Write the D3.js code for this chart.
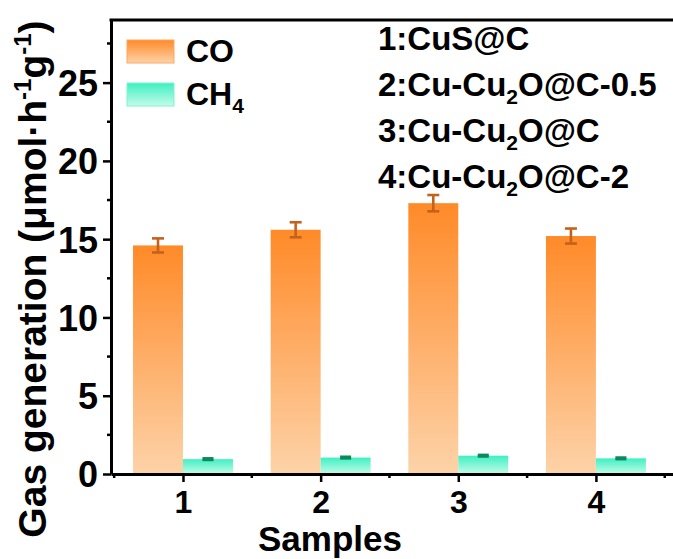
<!DOCTYPE html>
<html>
<head>
<meta charset="utf-8">
<script src="https://cdn.jsdelivr.net/npm/d3@7"></script>
<style>
  html, body { margin: 0; padding: 0; background: #fff; }
  svg { display: block; }
</style>
</head>
<body>
<svg id="main-svg" width="673" height="559"></svg>
<script>
// data
const samples = [1, 2, 3, 4];
const coValues = [14.6, 15.6, 17.3, 15.2];
const coErrors = [0.45, 0.48, 0.52, 0.48];
const ch4Values = [0.95, 1.05, 1.17, 1.0];
const ch4Errors = [0.05, 0.05, 0.05, 0.05];
const yTicks = [0, 5, 10, 15, 20, 25];
const yMinorTicks = [2.5, 7.5, 12.5, 17.5, 22.5, 27.5];
const xMinorTicks = [0.5, 1.5, 2.5, 3.5, 4.5];
const legendLabels = ["CO", "CH_4"];
// "_x" marks a subscript character
const sampleNames = ["1:CuS@C", "2:Cu-Cu_2O@C-0.5", "3:Cu-Cu_2O@C", "4:Cu-Cu_2O@C-2"];

const font = "'Liberation Sans', Arial, sans-serif";
const svg = d3.select("#main-svg");

const x = d3.scaleLinear().domain([0.477, 4.56]).range([111, 673]);
const y = d3.scaleLinear().domain([0, 29]).range([474, 20]);
const barW = 0.363;

// gradients
const defs = svg.append("defs");
function grad(id, top, bottom) {
    const g = defs.append("linearGradient").attr("id", id)
        .attr("x1", 0).attr("y1", 0).attr("x2", 0).attr("y2", 1);
    g.append("stop").attr("offset", "0%").attr("stop-color", top);
    g.append("stop").attr("offset", "100%").attr("stop-color", bottom);
}
grad("coGrad", "#ff8a28", "#fdd3a9");
grad("ch4Grad", "#3ff0c2", "#c4fbe9");

// text with subscripts
function richText(sel, str, subSize, subShift) {
    const parts = str.split(/(_.)/).filter(s => s.length);
    let back = 0;
    parts.forEach(p => {
        if (p[0] === "_") {
            sel.append("tspan").attr("font-size", subSize).attr("dy", subShift).text(p[1]);
            back = -subShift;
        } else {
            sel.append("tspan").attr("dy", back).text(p);
            back = 0;
        }
    });
}

// bars
svg.selectAll(".co-bar")
    .data(samples)
    .enter().append("rect")
    .attr("class", "co-bar")
    .attr("x", d => x(d - barW))
    .attr("width", d => x(d) - x(d - barW))
    .attr("y", (d, i) => y(coValues[i]))
    .attr("height", (d, i) => y(0) - y(coValues[i]))
    .attr("fill", "url(#coGrad)");

svg.selectAll(".ch4-bar")
    .data(samples)
    .enter().append("rect")
    .attr("class", "ch4-bar")
    .attr("x", d => x(d))
    .attr("width", d => x(d + barW) - x(d))
    .attr("y", (d, i) => y(ch4Values[i]))
    .attr("height", (d, i) => y(0) - y(ch4Values[i]))
    .attr("fill", "url(#ch4Grad)");

// error bars
function errorBars(vals, errs, offset, color, cap) {
    samples.forEach((d, i) => {
        const cx = x(d + offset);
        const g = svg.append("g").attr("stroke", color).attr("stroke-width", 2.6);
        g.append("line").attr("x1", cx).attr("x2", cx)
            .attr("y1", y(vals[i] - errs[i])).attr("y2", y(vals[i] + errs[i]));
        [vals[i] - errs[i], vals[i] + errs[i]].forEach(v => {
            g.append("line").attr("x1", cx - cap / 2).attr("x2", cx + cap / 2)
                .attr("y1", y(v)).attr("y2", y(v));
        });
    });
}
errorBars(coValues, coErrors, -barW / 2, "#c4621c", 12);
errorBars(ch4Values, ch4Errors, barW / 2, "#0b8a5c", 11);

// axes
const yAxis = svg.append("g")
    .attr("transform", `translate(${x.range()[0]},0)`)
    .call(d3.axisLeft(y).tickValues(yTicks).tickSize(8).tickPadding(5).tickSizeOuter(0));
const xAxis = svg.append("g")
    .attr("transform", `translate(0,${y(0)})`)
    .call(d3.axisBottom(x).tickValues(samples).tickFormat(d3.format("d"))
        .tickSize(8).tickPadding(8).tickSizeOuter(0));

[yAxis, xAxis].forEach(a => {
    a.select(".domain").attr("stroke", "#000").attr("stroke-width", 3);
    a.selectAll(".tick line").attr("stroke", "#000").attr("stroke-width", 2.5);
    a.selectAll("text").attr("fill", "#000").attr("font-family", font)
        .attr("font-weight", "bold").attr("font-size", 36);
});
yAxis.selectAll("text").attr("dy", "0.36em");
xAxis.selectAll("text").attr("font-size", 32);

// minor ticks
svg.selectAll(".y-minor").data(yMinorTicks).enter().append("line")
    .attr("x1", x.range()[0] - 4).attr("x2", x.range()[0])
    .attr("y1", d => y(d)).attr("y2", d => y(d))
    .attr("stroke", "#000").attr("stroke-width", 2.5);
svg.selectAll(".x-minor").data(xMinorTicks).enter().append("line")
    .attr("x1", d => x(d)).attr("x2", d => x(d))
    .attr("y1", y(0)).attr("y2", y(0) + 4)
    .attr("stroke", "#000").attr("stroke-width", 2.5);

// top frame line
svg.append("line")
    .attr("x1", x.range()[0] - 1.5).attr("x2", x.range()[1])
    .attr("y1", y.range()[1]).attr("y2", y.range()[1])
    .attr("stroke", "#000").attr("stroke-width", 3);

// axis titles
svg.append("text")
    .attr("x", 330).attr("y", 551)
    .attr("text-anchor", "middle")
    .attr("font-family", font).attr("font-weight", "bold").attr("font-size", 35)
    .text("Samples");

const yTitle = svg.append("text")
    .attr("transform", "translate(46,279) rotate(-90)")
    .attr("text-anchor", "middle")
    .attr("font-family", font).attr("font-weight", "bold").attr("font-size", 39);
yTitle.append("tspan").text("Gas generation (\u03bcmol\u00b7h");
yTitle.append("tspan").attr("font-size", 24).attr("dy", -15).text("-1");
yTitle.append("tspan").attr("dy", 15).text("g");
yTitle.append("tspan").attr("font-size", 24).attr("dy", -15).text("-1");
yTitle.append("tspan").attr("dy", 15).text(")");

// legend
const legendFills = ["url(#coGrad)", "url(#ch4Grad)"];
const legendStroke = ["#fba866", "#7ef3d0"];
legendLabels.forEach((lab, i) => {
    const ly = 40 + i * 43;
    svg.append("rect")
        .attr("x", 127).attr("y", ly).attr("width", 47).attr("height", 23)
        .attr("fill", legendFills[i]).attr("stroke", legendStroke[i]).attr("stroke-width", 1);
    const t = svg.append("text")
        .attr("x", 186).attr("y", ly + 22)
        .attr("font-family", font).attr("font-weight", "bold").attr("font-size", 32);
    richText(t, lab, 21, 8);
});

// sample names
sampleNames.forEach((name, i) => {
    const t = svg.append("text")
        .attr("x", 378).attr("y", 50 + i * 46)
        .attr("font-family", font).attr("font-weight", "bold").attr("font-size", 33);
    richText(t, name, 21, 8);
});
</script>
</body>
</html>
